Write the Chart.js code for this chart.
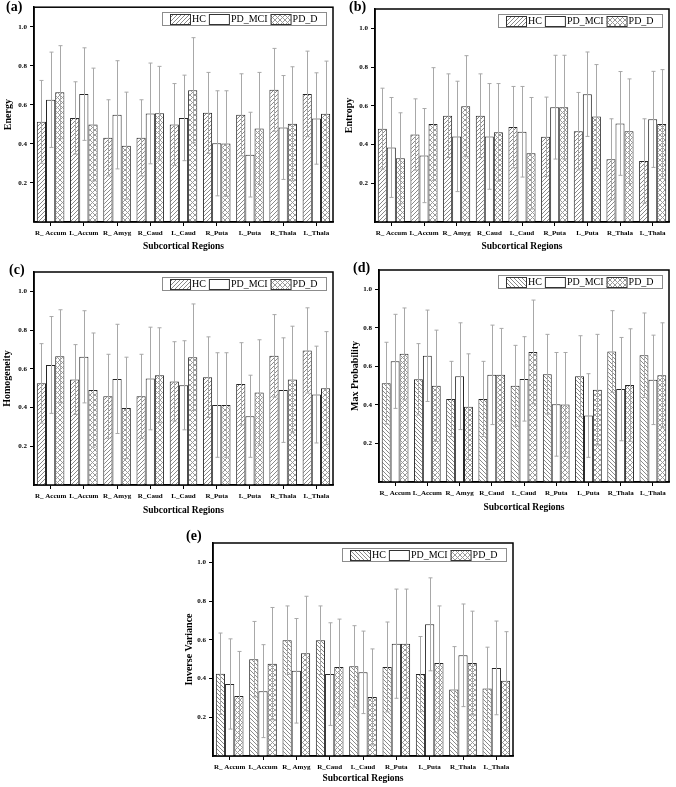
<!DOCTYPE html>
<html><head><meta charset="utf-8">
<script src="https://cdn.jsdelivr.net/npm/chart.js@4.4.0/dist/chart.umd.min.js"></script>
<style>
body{margin:0;background:#fff;width:676px;height:787px;position:relative;overflow:hidden;}
canvas{position:absolute;left:0;top:0;}
.lbl{position:absolute;font:bold 14px "Liberation Serif",serif;line-height:16px;color:#000;}
</style></head><body>
<canvas id="cA" width="676" height="787"></canvas>
<canvas id="cB" width="676" height="787"></canvas>
<canvas id="cC" width="676" height="787"></canvas>
<canvas id="cD" width="676" height="787"></canvas>
<canvas id="cE" width="676" height="787"></canvas>
<div class="lbl" style="left:6px;top:-1px">(a)</div>
<div class="lbl" style="left:349px;top:-1px">(b)</div>
<div class="lbl" style="left:9px;top:262px">(c)</div>
<div class="lbl" style="left:353px;top:260px">(d)</div>
<div class="lbl" style="left:186px;top:528px">(e)</div>
<script>
const categories = ['R_ Accum','L_Accum','R_ Amyg','R_Caud','L_Caud','R_Puta','L_Puta','R_Thala','L_Thala'];
const seriesNames = ['HC','PD_MCI','PD_D'];
const yTicks = [0.2,0.4,0.6,0.8,1.0];
const xTitle = 'Subcortical Regions';

// (a) Energy
const energyHC = [0.513,0.533,0.431,0.431,0.499,0.559,0.549,0.677,0.656];
const energyHCsd = [0.212,0.185,0.195,0.195,0.210,0.207,0.210,0.212,0.219];
const energyMCI = [0.626,0.655,0.549,0.556,0.533,0.403,0.345,0.484,0.530];
const energyMCIsd = [0.244,0.237,0.277,0.258,0.219,0.269,0.217,0.266,0.234];
const energyPDD = [0.665,0.499,0.391,0.557,0.675,0.402,0.479,0.503,0.554];
const energyPDDsd = [0.238,0.289,0.274,0.240,0.269,0.270,0.287,0.292,0.270];

// (b) Entropy
const entropyHC = [0.482,0.452,0.549,0.549,0.490,0.440,0.469,0.324,0.315];
const entropyHCsd = [0.209,0.184,0.216,0.216,0.210,0.205,0.200,0.209,0.218];
const entropyMCI = [0.385,0.343,0.442,0.442,0.466,0.593,0.660,0.509,0.530];
const entropyMCIsd = [0.258,0.243,0.285,0.273,0.234,0.268,0.218,0.268,0.248];
const entropyPDD = [0.329,0.506,0.598,0.463,0.355,0.593,0.545,0.469,0.506];
const entropyPDDsd = [0.235,0.291,0.261,0.252,0.288,0.268,0.268,0.270,0.281];

// (c) Homogeneity
const homogHC = [0.525,0.545,0.458,0.458,0.535,0.557,0.522,0.667,0.695];
const homogHCsd = [0.205,0.180,0.217,0.217,0.205,0.208,0.213,0.213,0.220];
const homogMCI = [0.620,0.662,0.548,0.550,0.515,0.413,0.355,0.490,0.467];
const homogMCIsd = [0.250,0.238,0.282,0.265,0.230,0.270,0.212,0.270,0.250];
const homogPDD = [0.665,0.490,0.398,0.567,0.660,0.413,0.478,0.545,0.500];
const homogPDDsd = [0.240,0.295,0.262,0.245,0.275,0.270,0.272,0.275,0.292];

// (d) Max Probability
const maxpHC = [0.513,0.533,0.431,0.431,0.499,0.559,0.549,0.677,0.658];
const maxpHCsd = [0.212,0.185,0.195,0.195,0.210,0.207,0.210,0.212,0.219];
const maxpMCI = [0.626,0.655,0.549,0.556,0.535,0.403,0.345,0.482,0.530];
const maxpMCIsd = [0.244,0.237,0.277,0.258,0.219,0.269,0.217,0.268,0.232];
const maxpPDD = [0.665,0.499,0.391,0.557,0.675,0.402,0.479,0.503,0.554];
const maxpPDDsd = [0.238,0.289,0.274,0.240,0.269,0.270,0.287,0.292,0.272];

// (e) Inverse Variance
const invHC = [0.425,0.500,0.598,0.598,0.463,0.460,0.423,0.343,0.348];
const invHCsd = [0.210,0.195,0.177,0.177,0.210,0.232,0.194,0.222,0.214];
const invMCI = [0.372,0.335,0.440,0.423,0.432,0.580,0.680,0.520,0.455];
const invMCIsd = [0.233,0.240,0.270,0.265,0.213,0.282,0.240,0.265,0.242];
const invPDD = [0.310,0.477,0.530,0.460,0.305,0.580,0.480,0.480,0.388];
const invPDDsd = [0.230,0.290,0.295,0.247,0.248,0.282,0.295,0.268,0.254];

Chart.defaults.font.family = '"Liberation Serif", "Times New Roman", serif';
Chart.defaults.color = '#000';

function makePattern(kind){
  const n = kind === 'x' ? 5 : 4;
  const c = document.createElement('canvas'); c.width = n; c.height = n;
  const g = c.getContext('2d');
  g.fillStyle = '#fff'; g.fillRect(0,0,n,n);
  g.strokeStyle = kind === 'x' ? '#9a9a9a' : '#8a8a8a';
  g.lineWidth = 1;
  const seg = (a,b,c2,d)=>{ g.beginPath(); g.moveTo(a,b); g.lineTo(c2,d); g.stroke(); };
  if (kind === '/' || kind === 'x') { seg(0,n,n,0); seg(-1,1,1,-1); seg(n-1,n+1,n+1,n-1); }
  if (kind === '\\' || kind === 'x') { seg(0,0,n,n); seg(-1,n-1,1,n+1); seg(n-1,-1,n+1,1); }
  return document.createElement('canvas').getContext('2d').createPattern(c,'repeat');
}
const whiteFill = '#ffffff';

const framePlugin = { id:'frame', afterDraw(chart){
  const a = chart.chartArea, ctx = chart.ctx;
  ctx.save(); ctx.strokeStyle = '#000'; ctx.lineWidth = 1.5;
  ctx.strokeRect(a.left, a.top, a.right-a.left, a.bottom-a.top);
  ctx.restore();
}};

const errorPlugin = { id:'errbars', afterDatasetsDraw(chart){
  const ctx = chart.ctx, ys = chart.scales.y;
  ctx.save(); ctx.strokeStyle = '#a8a8a8'; ctx.lineWidth = 1;
  chart.data.datasets.forEach((ds,i)=>{
    const meta = chart.getDatasetMeta(i);
    meta.data.forEach((bar,j)=>{
      const m = ds.data[j], s = ds.sd[j];
      const y1 = ys.getPixelForValue(m+s), y2 = ys.getPixelForValue(m-s);
      const x = Math.round(bar.x)+0.5;
      ctx.beginPath();
      ctx.moveTo(x,y1); ctx.lineTo(x,y2);
      ctx.moveTo(x-2,y1); ctx.lineTo(x+2,y1);
      ctx.moveTo(x-2,y2); ctx.lineTo(x+2,y2);
      ctx.stroke();
    });
  });
  ctx.restore();
}};

const legendPlugin = { id:'boxLegend', afterDraw(chart){
  const ctx = chart.ctx, a = chart.chartArea;
  ctx.save();
  ctx.font = '10px "Liberation Serif", serif';
  const sw = 20, sh = 10, h = 13, padL = 8, padR = 8, gapS = 2, gapItem = 3;
  const items = chart.data.datasets.map(d=>({label:d.label, bg:d.backgroundColor, w:ctx.measureText(d.label).width}));
  const total = padL + padR + items.reduce((s,it)=>s+sw+gapS+it.w,0) + gapItem*(items.length-1);
  const right = a.right - 7, top = a.top + 5, left = right - total;
  ctx.fillStyle = '#fff'; ctx.fillRect(left, top, total, h);
  ctx.strokeStyle = '#8c8c8c'; ctx.lineWidth = 1;
  ctx.strokeRect(Math.round(left)+0.5, Math.round(top)+0.5, Math.round(total), h);
  let x = Math.round(left + padL);
  items.forEach(it=>{
    ctx.fillStyle = it.bg; ctx.fillRect(x, top+2, sw, sh);
    ctx.strokeStyle = '#333'; ctx.strokeRect(x+0.5, Math.round(top+2)+0.5, sw, sh);
    x += sw + gapS;
    ctx.fillStyle = '#000'; ctx.textBaseline = 'middle'; ctx.textAlign = 'left';
    ctx.fillText(it.label, x, top + h/2 + 1);
    x += it.w + gapItem;
  });
  ctx.restore();
}};

function makePanel(id, p){
  const left = p.titleX - 6;
  const yw = p.L - left;
  const xh = p.titleY - p.B + 5.7;
  const patHC = makePattern(p.hatch);
  const patPD = makePattern('x');
  const vals = [p.hc, p.mci, p.pd], sds = [p.hcSd, p.mciSd, p.pdSd], fills = [patHC, whiteFill, patPD];
  new Chart(document.getElementById(id), {
    type:'bar',
    data:{
      labels: categories,
      datasets: seriesNames.map((name,i)=>({
        label:name, data:vals[i], sd:sds[i],
        backgroundColor:fills[i], borderColor:'#262626', borderWidth:1,
        categoryPercentage:0.83, barPercentage:1.0
      }))
    },
    options:{
      responsive:false, animation:false, devicePixelRatio:1,
      layout:{padding:{left:left, top:p.T, right:676-p.R, bottom:787-p.B-xh}},
      plugins:{legend:{display:false}, tooltip:{enabled:false}},
      scales:{
        x:{
          offset:true,
          grid:{display:true, offset:false, drawOnChartArea:false, drawTicks:true, tickLength:4, color:'#000', lineWidth:1},
          border:{display:true, color:'#000', width:1.5},
          ticks:{font:{size:7, weight:'bold'}, color:'#000', padding:3, maxRotation:0, autoSkip:false},
          title:{display:true, text:xTitle, font:{size:9.5, weight:'bold'}, color:'#000', padding:0},
          afterFit: s=>{ s.height = xh; }
        },
        y:{
          min:0, max:1.1,
          afterBuildTicks: s=>{ s.ticks = yTicks.map(v=>({value:v})); },
          grid:{display:true, drawOnChartArea:false, drawTicks:true, tickLength:4, color:'#000', lineWidth:1},
          border:{display:true, color:'#000', width:1.5},
          ticks:{font:{size:7, weight:'bold'}, color:'#000', padding:3, callback:v=>Number(v).toFixed(1)},
          title:{display:true, text:p.title, font:{size:10, weight:'bold'}, color:'#000', padding:0},
          afterFit: s=>{ s.width = yw; }
        }
      }
    },
    plugins:[errorPlugin, framePlugin, legendPlugin]
  });
}

makePanel('cA', {title:'Energy', hc:energyHC, hcSd:energyHCsd, mci:energyMCI, mciSd:energyMCIsd, pd:energyPDD, pdSd:energyPDDsd,
  L:34, R:333, T:7, B:222, titleX:8, titleY:246.5, hatch:'/'});
makePanel('cB', {title:'Entropy', hc:entropyHC, hcSd:entropyHCsd, mci:entropyMCI, mciSd:entropyMCIsd, pd:entropyPDD, pdSd:entropyPDDsd,
  L:375, R:669, T:9, B:222, titleX:349.5, titleY:247, hatch:'/'});
makePanel('cC', {title:'Homogeneity', hc:homogHC, hcSd:homogHCsd, mci:homogMCI, mciSd:homogMCIsd, pd:homogPDD, pdSd:homogPDDsd,
  L:34, R:333, T:272, B:485, titleX:7, titleY:511, hatch:'/'});
makePanel('cD', {title:'Max Probability', hc:maxpHC, hcSd:maxpHCsd, mci:maxpMCI, mciSd:maxpMCIsd, pd:maxpPDD, pdSd:maxpPDDsd,
  L:379, R:669, T:270, B:482, titleX:355, titleY:508, hatch:'\\'});
makePanel('cE', {title:'Inverse Variance', hc:invHC, hcSd:invHCsd, mci:invMCI, mciSd:invMCIsd, pd:invPDD, pdSd:invPDDsd,
  L:213, R:513, T:543, B:756, titleX:189, titleY:779, hatch:'\\'});
</script>
</body></html>
